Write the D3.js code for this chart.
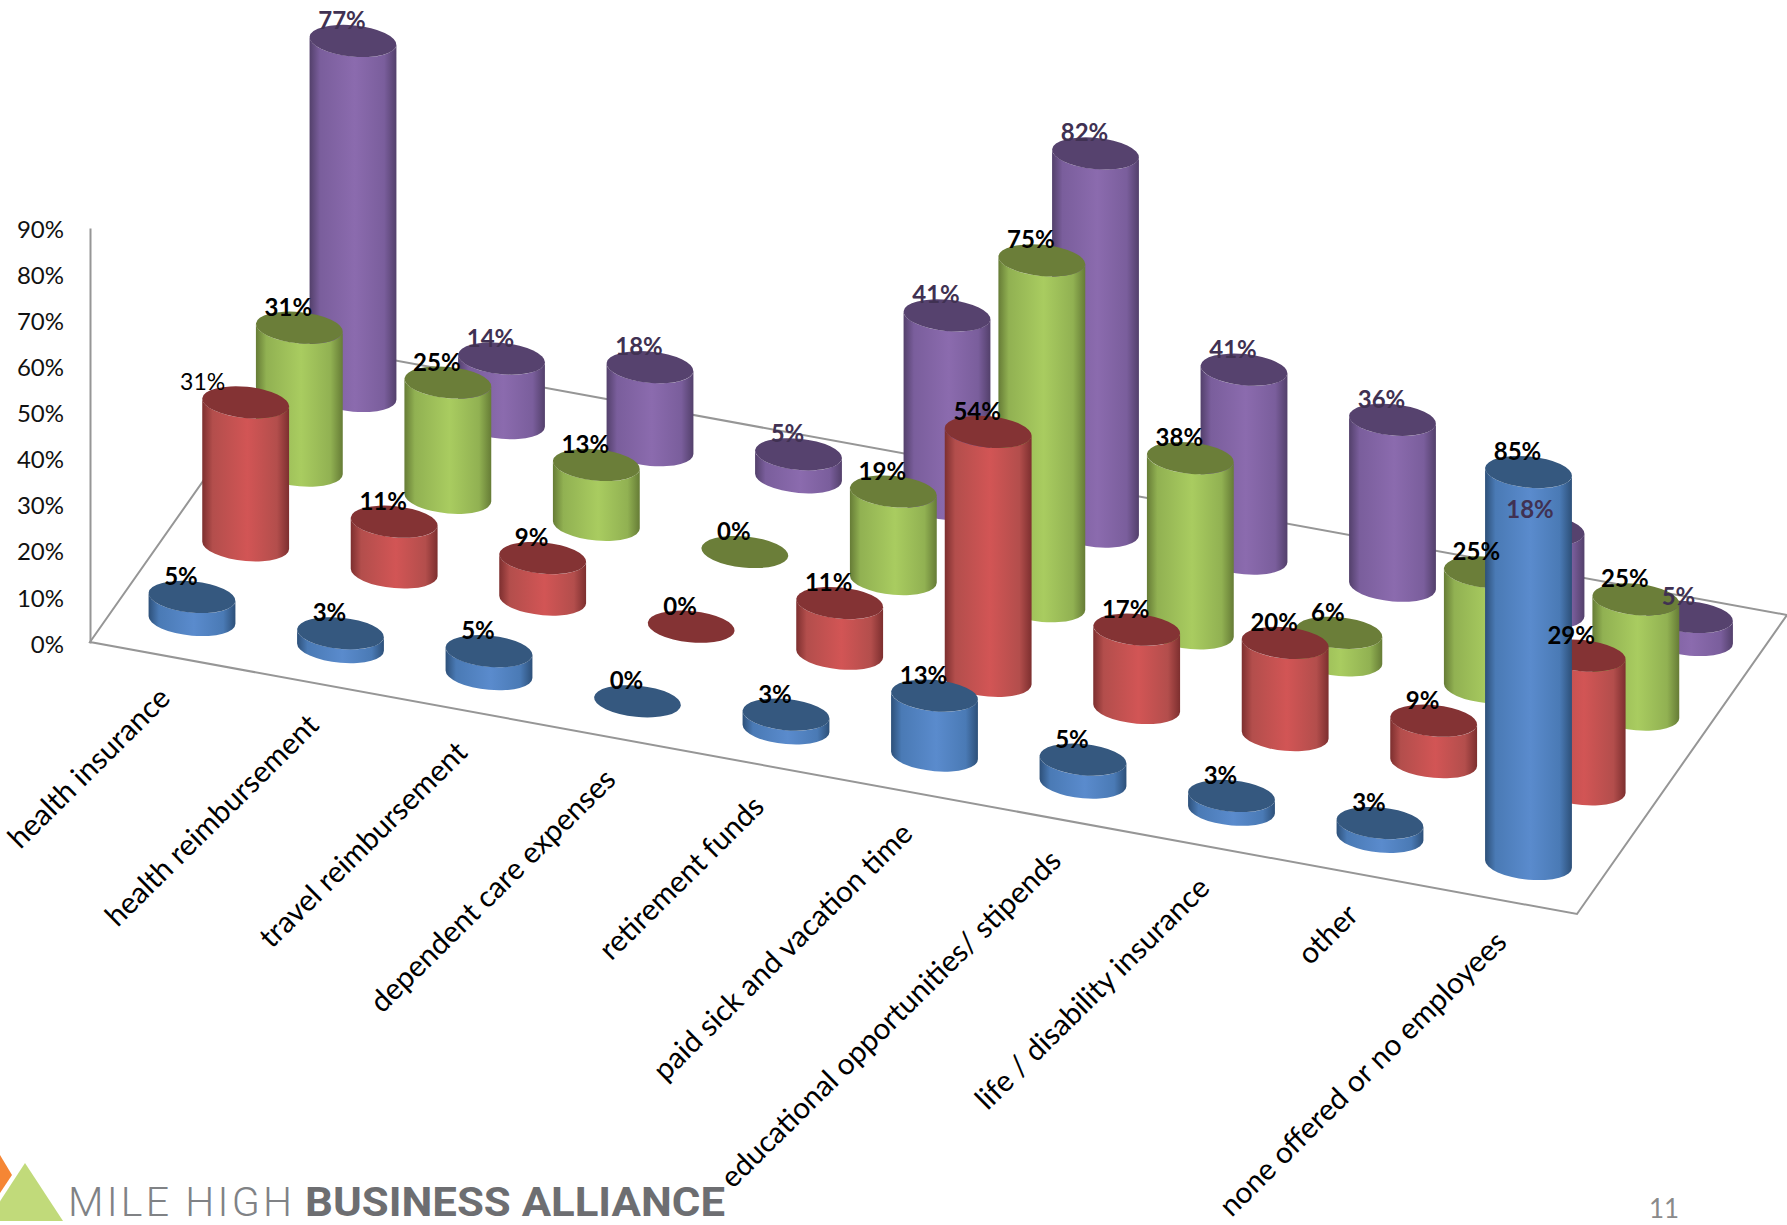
<!DOCTYPE html>
<html>
<head>
<meta charset="utf-8">
<script src="https://d3js.org/d3.v7.min.js"></script>
<style>
  html, body { margin: 0; padding: 0; background: #fff; overflow: hidden; }
  svg { display: block; }
</style>
</head>
<body>
<svg id="chart" width="1787" height="1225"></svg>
<script>
// Benefits offered, by employer group
const categories = [
  "health insurance", "health reimbursement", "travel reimbursement",
  "dependent care expenses", "retirement funds", "paid sick and vacation time",
  "educational opportunities/ stipends", "life / disability insurance",
  "other", "none offered or no employees"
];
const blueValues   = [5, 3, 5, 0, 3, 13, 5, 3, 3, 85];
const redValues    = [31, 11, 9, 0, 11, 54, 17, 20, 9, 29];
const greenValues  = [31, 25, 13, 0, 19, 75, 38, 6, 25, 25];
const purpleValues = [77, 14, 18, 5, 41, 82, 41, 36, 18, 5];
const axisTicks = [0, 10, 20, 30, 40, 50, 60, 70, 80, 90];

// Rows run front to back
const rows = [
  { key: "blue",   values: blueValues,   top: "#35587f", edge: "#2d5079", mid: "#4a7ab5", light: "#5a8bcd", text: "#000" },
  { key: "red",    values: redValues,    top: "#843334", edge: "#7d2f2f", mid: "#b34e4c", light: "#d25555", text: "#000" },
  { key: "green",  values: greenValues,  top: "#6b7e39", edge: "#667c36", mid: "#91b152", light: "#a9cc60", text: "#000" },
  { key: "purple", values: purpleValues, top: "#56426e", edge: "#53406b", mid: "#7a5e9c", light: "#8b6bae", text: "#403152" }
];

const svg = d3.select("#chart");
const defs = svg.append("defs");

// Oblique projection of the floor: category runs along one edge, row along the other
const catX = d3.scaleLinear().domain([0, 9]).range([192, 1528.5]);
const catY = d3.scaleLinear().domain([0, 9]).range([620, 864]);
const rowX = d3.scaleLinear().domain([0, 3]).range([0, 161]);
const rowY = d3.scaleLinear().domain([0, 3]).range([0, -224]);
const heightScale = d3.scaleLinear().domain([0, 90]).range([0, 415]);
const axisY = d3.scaleLinear().domain([0, 90]).range([643, 228]);

// Floor outline
const floor = { fl: [90, 642], fr: [1577, 914], br: [1787, 615], bl: [300, 343] };
svg.append("path")
  .attr("d", d3.line()([floor.bl, floor.fl, floor.fr, floor.br, floor.bl]))
  .attr("fill", "none")
  .attr("stroke", "#969696")
  .attr("stroke-width", 2);

// Value axis
const axis = d3.axisLeft(axisY)
  .tickValues(axisTicks)
  .tickFormat(d => d + "%")
  .tickSize(0)
  .tickPadding(26);
const axisG = svg.append("g").attr("transform", "translate(90,0)").call(axis);
axisG.select(".domain").attr("stroke", "#969696").attr("stroke-width", 2);
axisG.selectAll("text")
  .attr("dy", "0.38em")
  .attr("font-family", "Lato, sans-serif")
  .attr("font-size", 24)
  .attr("fill", "#111");

// Category labels
svg.append("g").selectAll("text")
  .data(categories)
  .join("text")
  .attr("transform", (d, i) => `translate(${catX(i) - 20},${catY(i) + 80}) rotate(-44.7)`)
  .attr("text-anchor", "end")
  .attr("font-family", "Lato, sans-serif")
  .attr("font-size", 29.7)
  .attr("fill", "#000")
  .text(d => d);

// Side shading for each colour
rows.forEach(r => {
  const g = defs.append("linearGradient")
    .attr("id", "side-" + r.key)
    .attr("x1", 0).attr("x2", 1).attr("y1", 0).attr("y2", 0);
  [[0, r.edge], [0.12, r.mid], [0.52, r.light], [0.86, r.mid], [1, r.edge]].forEach(([o, c]) =>
    g.append("stop").attr("offset", o).attr("stop-color", c));
});

// Ellipse of a cylinder cap, tilted with the floor
const capA = 43.6, capB = 15.6, capTilt = 5.6;
const rad = capTilt * Math.PI / 180;
const tan0 = Math.atan2(-capB * Math.sin(rad), capA * Math.cos(rad));
const tanX = capA * Math.cos(tan0) * Math.cos(rad) - capB * Math.sin(tan0) * Math.sin(rad);
const tanY = capA * Math.cos(tan0) * Math.sin(rad) + capB * Math.sin(tan0) * Math.cos(rad);

function sidePath(cx, baseY, topY) {
  const arc = `${capA} ${capB} ${capTilt} 0`;
  return `M${cx - tanX},${topY - tanY} L${cx - tanX},${baseY - tanY}` +
         ` A${arc} 0 ${cx + tanX},${baseY + tanY}` +
         ` L${cx + tanX},${topY + tanY}` +
         ` A${arc} 1 ${cx - tanX},${topY - tanY} Z`;
}

const marks = rows.flatMap((r, ri) => r.values.map((v, ci) => {
  const cx = catX(ci) + rowX(ri);
  const baseY = catY(ci) + rowY(ri);
  return { row: r, ri, ci, value: v, cx, baseY, topY: baseY - heightScale(v) };
}));

// Paint from the back row forwards, so nearer cylinders cover farther ones
const bars = svg.append("g");
d3.range(rows.length - 1, -1, -1).forEach(ri => {
  marks.filter(m => m.ri === ri).forEach(m => {
    const g = bars.append("g").attr("class", "cyl");
    if (m.value > 0) {
      g.append("path")
        .attr("d", sidePath(m.cx, m.baseY, m.topY))
        .attr("fill", `url(#side-${m.row.key})`);
    }
    g.append("ellipse")
      .attr("rx", capA).attr("ry", capB)
      .attr("transform", `translate(${m.cx},${m.topY}) rotate(${capTilt})`)
      .attr("fill", m.row.top);
  });
});

// Value labels sit over every cylinder
const isPlainLabel = m => m.ri === 1 && m.ci === 0;
svg.append("g").selectAll("text")
  .data(marks)
  .join("text")
  .attr("x", m => m.cx - (isPlainLabel(m) ? 43 : 11))
  .attr("y", m => m.topY - 12)
  .attr("text-anchor", "middle")
  .attr("font-family", "Lato, sans-serif")
  .attr("font-size", m => isPlainLabel(m) ? 23 : 24)
  .attr("font-weight", m => isPlainLabel(m) ? 400 : 700)
  .attr("fill", m => m.row.text)
  .text(m => m.value + "%");

// Footer logo and page number
const logo = svg.append("g");
logo.append("polygon").attr("points", "0,1155 12,1175 0,1193").attr("fill", "#f58634");
logo.append("polygon").attr("points", "25,1163 63,1221 -13,1221").attr("fill", "#c1da7a");
logo.append("text")
  .attr("x", 68).attr("y", 1216)
  .attr("font-family", "Roboto, sans-serif")
  .attr("font-weight", 300)
  .attr("font-size", 41)
  .attr("fill", "#808285")
  .attr("textLength", 224)
  .attr("lengthAdjust", "spacing")
  .text("MILE HIGH");
logo.append("text")
  .attr("x", 305).attr("y", 1216)
  .attr("font-family", "Roboto, sans-serif")
  .attr("font-weight", 700)
  .attr("font-size", 41)
  .attr("fill", "#6d6e71")
  .attr("textLength", 420)
  .attr("lengthAdjust", "spacingAndGlyphs")
  .text("BUSINESS ALLIANCE");
svg.append("text")
  .attr("x", 1664).attr("y", 1218)
  .attr("text-anchor", "middle")
  .attr("font-family", "Lato, sans-serif")
  .attr("font-size", 26)
  .attr("fill", "#8a8a8a")
  .text("11");
</script>
</body>
</html>
